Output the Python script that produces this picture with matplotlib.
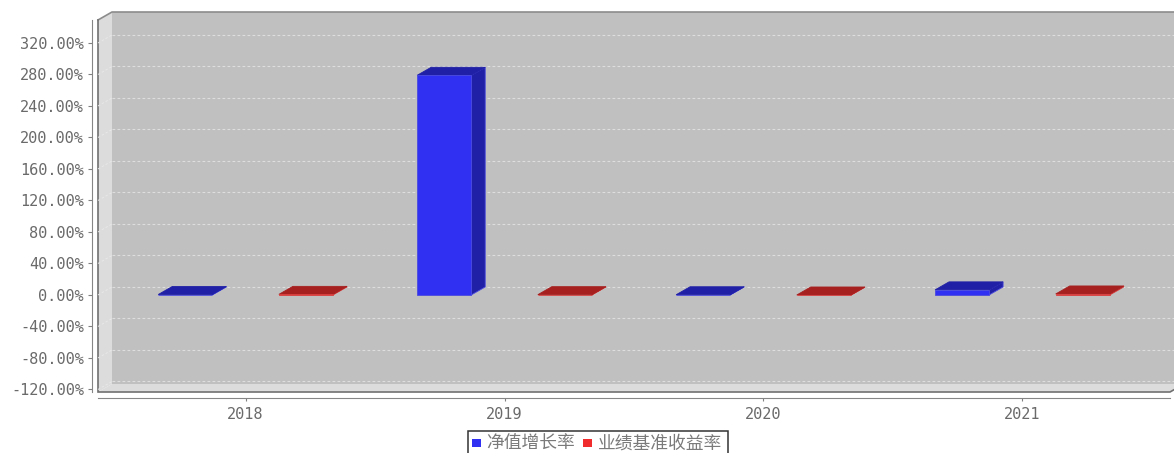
import matplotlib
matplotlib.use("Agg")
import matplotlib.pyplot as plt
from matplotlib.patches import Polygon, Rectangle

plt.rcParams['font.family'] = ['Noto Sans CJK SC', 'DejaVu Sans']

years = ['2018', '2019', '2020', '2021']
series_names = ['净值增长率', '业绩基准收益率']
nav_growth = [0.6, 279.0, 0.3, 6.5]
benchmark = [0.8, 0.4, -0.4, 1.3]
y_ticks = [-120, -80, -40, 0, 40, 80, 120, 160, 200, 240, 280, 320]

W, H = 1174, 453
DX, DY = 14, 8
TEXT = '#6a6a6a'
MONO = 'DejaVu Sans Mono'
fig = plt.figure(figsize=(W / 100, H / 100), dpi=100, facecolor='white')
L, R, T, B = 98, 1170, 20, 392
ax = fig.add_axes([L / W, 1 - B / H, (R - L) / W, (B - T) / H])
ax.patch.set_visible(False)
ax.set_xlim(-0.57, 3.57)
ax.set_ylim(-123.2, 349.2)
ppx = (R - L) / (3.57 + 0.57)
ppy = (B - T) / (349.2 + 123.2)
ddx, ddy = DX / ppx, DY / ppy
x0, x1 = ax.get_xlim()
y0, y1 = ax.get_ylim()

# walls
ax.add_patch(Polygon([(x0, y0), (x0 + ddx, y0 + ddy), (x0 + ddx, y1 + ddy), (x0, y1)],
                     fc='#dcdcdc', ec='none', clip_on=False, zorder=1))
ax.add_patch(Polygon([(x0, y0), (x1, y0), (x1 + ddx, y0 + ddy), (x0 + ddx, y0 + ddy)],
                     fc='#dcdcdc', ec='none', clip_on=False, zorder=1))
ax.add_patch(Rectangle((x0 + ddx, y0 + ddy), x1 - x0, y1 - y0, fc='#c0c0c0', ec='none',
                       clip_on=False, zorder=1))
ax.plot([x0, x0 + ddx, x1 + ddx], [y1, y1 + ddy, y1 + ddy], color='#8c8c8c', lw=1.2,
        clip_on=False, zorder=2, solid_joinstyle='miter')
ax.plot([x0, x0, x1, x1 + ddx], [y1, y0, y0, y0 + ddy], color='#707070', lw=1.2,
        clip_on=False, zorder=2, solid_joinstyle='miter')

# grid
for t in y_ticks:
    ax.plot([x0 + ddx, x1 + ddx], [t + ddy, t + ddy], color='#dedede', lw=0.8,
            ls=(0, (2.5, 2)), clip_on=False, zorder=2)
    ax.plot([x0, x0 + ddx], [t, t + ddy], color='#e8e8e8', lw=0.7,
            ls=(0, (2.5, 2)), clip_on=False, zorder=2)


def bar3d(xc, val, front, dark, edge):
    w = 0.2087
    a, b = xc - w / 2, xc + w / 2
    lo, hi = min(0, val), max(0, val)
    ax.add_patch(Polygon([(b, lo), (b + ddx, lo + ddy), (b + ddx, hi + ddy), (b, hi)], fc=dark,
                         ec=edge, lw=0.6, zorder=5, joinstyle='miter'))
    ax.add_patch(Polygon([(a, hi), (b, hi), (b + ddx, hi + ddy), (a + ddx, hi + ddy)], fc=dark,
                         ec=dark, lw=0.6, zorder=5, joinstyle='miter'))
    ax.add_patch(Polygon([(a, lo), (b, lo), (b, hi), (a, hi)], fc=front,
                         ec=edge, lw=0.6, zorder=6, joinstyle='miter'))


for i, (n, r) in enumerate(zip(nav_growth, benchmark)):
    bar3d(i - 0.233, n, '#3030f2', '#2020a6', '#4a4ae0')
    bar3d(i + 0.233, r, '#f02c2c', '#a62020', '#d84040')

for s in ax.spines.values():
    s.set_visible(False)
for name in ('left', 'bottom'):
    ax.spines[name].set_visible(True)
    ax.spines[name].set_position(('outward', 4))
    ax.spines[name].set_color('#858585')
ax.set_yticks(y_ticks)
ax.set_yticklabels([f'{v:.2f}%' for v in y_ticks], family=MONO)
ax.set_xticks(range(4))
ax.set_xticklabels(years, family=MONO)
ax.tick_params(axis='y', length=3, width=0.8, color='#808080', labelcolor=TEXT, labelsize=11, pad=3)
ax.tick_params(axis='x', length=2, width=0.8, color='#808080', labelcolor=TEXT, labelsize=11, pad=5)

# overlay in pixel units: legend box (runs off the bottom of the picture)
leg = fig.add_axes([0, 0, 1, 1], zorder=10)
leg.set_xlim(0, W)
leg.set_ylim(H, 0)
leg.axis('off')
leg.add_patch(Rectangle((467.5, 430.5), 260, 30, fc='white', ec='#333333', lw=1.1))
leg.add_patch(Rectangle((472, 438.5), 9, 8.5, fc='#3030f2', ec='none'))
leg.add_patch(Rectangle((583, 438.5), 9, 8.5, fc='#f02c2c', ec='none'))
leg.text(486, 443.5, series_names[0], fontsize=12.8, color='#7a7a7a', va='center', ha='left')
leg.text(598, 443.5, series_names[1], fontsize=12.8, color='#7a7a7a', va='center', ha='left')

fig.savefig('out.png', dpi=100)
